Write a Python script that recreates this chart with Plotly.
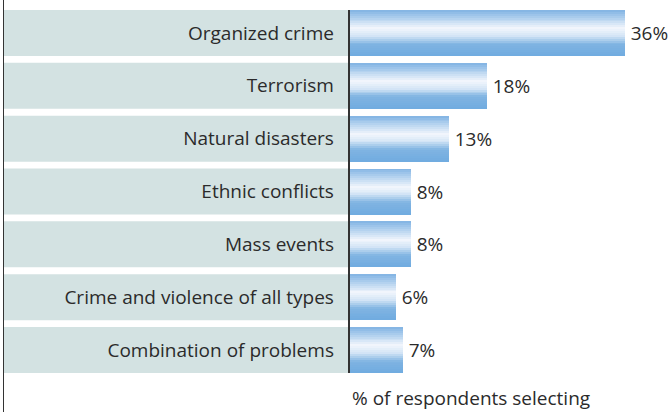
import plotly.graph_objects as go

categories = ["Organized crime", "Terrorism", "Natural disasters", "Ethnic conflicts",
              "Mass events", "Crime and violence of all types", "Combination of problems"]
values = [36, 18, 13, 8, 8, 6, 7]
value_labels = ["36%", "18%", "13%", "8%", "8%", "6%", "7%"]
axis_title = "% of respondents selecting"

FONT = "Open Sans"
TEXT = "#2b2b2b"
STRIPE = "#d3e2e2"
BAR_W = 0.87

# vertical gradient stops for bars (fraction from top, rgb)
stops = [(0.0, (128, 179, 227)), (0.16, (172, 205, 237)), (0.40, (242, 246, 252)),
         (0.56, (212, 229, 246)), (0.74, (128, 180, 226)), (1.0, (112, 171, 224))]

def grad(t):
    for (t0, c0), (t1, c1) in zip(stops[:-1], stops[1:]):
        if t0 <= t <= t1:
            f = (t - t0) / (t1 - t0)
            return "rgb(%d,%d,%d)" % tuple(round(a + (b - a) * f) for a, b in zip(c0, c1))
    return "rgb(%d,%d,%d)" % stops[-1][1]

fig = go.Figure()
N = 24
for k in range(N):
    fig.add_trace(go.Bar(
        y=categories, x=values, orientation="h",
        width=BAR_W / N * 1.08, offset=-BAR_W / 2 + k * BAR_W / N,
        marker=dict(color=grad((k + 0.5) / N), line=dict(width=0)),
        hoverinfo="skip", showlegend=False))
# value labels
fig.add_trace(go.Bar(
    y=categories, x=values, orientation="h", width=BAR_W,
    marker=dict(color="rgba(0,0,0,0)", line=dict(width=0)),
    text=["\u2009" + t for t in value_labels], textposition="outside", cliponaxis=False,
    textfont=dict(family=FONT, size=19, color=TEXT),
    hoverinfo="skip", showlegend=False))

W, H = 670, 412
x0 = 349.5 / W
shapes = []
for i in range(len(categories)):
    shapes.append(dict(type="rect", xref="paper", yref="y", layer="below",
                       x0=4 / W, x1=x0, y0=i - BAR_W / 2, y1=i + BAR_W / 2,
                       fillcolor=STRIPE, line=dict(width=0)))
shapes.append(dict(type="line", xref="paper", yref="paper", x0=3.5 / W, x1=3.5 / W,
                   y0=-0.2, y1=1.1, line=dict(color="#333", width=1)))

fig.update_layout(
    width=W, height=H, margin=dict(l=0, r=0, t=10, b=39),
    paper_bgcolor="white", plot_bgcolor="rgba(0,0,0,0)",
    barmode="overlay", bargap=0,
    font=dict(family=FONT, size=19, color=TEXT),
    shapes=shapes,
    xaxis=dict(domain=[x0, 1], range=[0, 42], showgrid=False, zeroline=False,
               showticklabels=False, showline=False, fixedrange=True),
    yaxis=dict(range=[len(categories) - 1 + BAR_W / 2, -BAR_W / 2],
               showgrid=False, zeroline=False, showline=True, linecolor="#333",
               linewidth=1.5, ticks="", ticklabelstandoff=10, fixedrange=True,
               tickfont=dict(family=FONT, size=19, color=TEXT)),
    annotations=[dict(text=axis_title, xref="x", yref="paper", x=0, y=-0.068,
                      xanchor="left", yanchor="middle", showarrow=False,
                      font=dict(family=FONT, size=19, color=TEXT))],
)
fig.write_html("out.html", config={"displayModeBar": False},
               post_script="document.body.style.margin='0';document.body.style.padding='0';")
